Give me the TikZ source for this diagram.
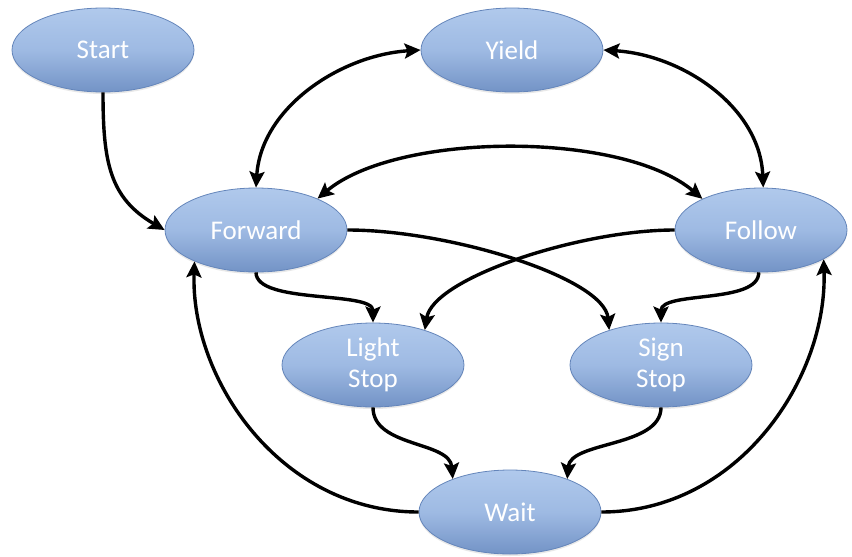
\documentclass[tikz,border=0pt]{standalone}
\usepackage{fontspec}
\setmainfont{Carlito}
\usetikzlibrary{arrows.meta,shadows,shapes.geometric}
\definecolor{stTop}{HTML}{B0C9EC}
\definecolor{stMid}{HTML}{9EBAE3}
\definecolor{stBot}{HTML}{7393C6}
\definecolor{stEdge}{HTML}{6485BA}
\tikzset{
  state/.style={ellipse, draw=stEdge, line width=0.8pt,
    top color=stTop, bottom color=stBot, middle color=stMid,
    minimum width=182pt, minimum height=84pt, inner sep=0pt,
    text=white, align=center,
    font=\fontsize{27}{31}\selectfont,
    drop shadow={opacity=0.18, shadow xshift=0pt, shadow yshift=-2pt}},
  trans/.style={line width=3.4pt, draw=black, -{Stealth[length=16pt, width=15pt, inset=3pt]}},
  both/.style={line width=3.4pt, draw=black,
    {Stealth[length=16pt, width=15pt, inset=3pt]}-{Stealth[length=16pt, width=15pt, inset=3pt]}}
}
\begin{document}
\begin{tikzpicture}[x=1pt, y=-1pt]
\useasboundingbox (0,0) rectangle (852,557);

% states
\node[state] (Start)   at (103,50)  {Start};
\node[state] (Yield)   at (512,50)  {Yield};
\node[state] (Forward) at (256,230) {Forward};
\node[state, minimum width=172pt] (Follow) at (761,230) {Follow};
\node[state] (Light)   at (373,365) {Light\\Stop};
\node[state] (Sign)    at (661,365) {Sign\\Stop};
\node[state] (Wait)    at (510,512) {Wait};

% transitions
\draw[trans] (Start.south) .. controls +(0,70) and +(-55,-32) .. (Forward.west);
\draw[both] (Yield.west) .. controls +(-80,5) and +(5,-80) .. (Forward.north);
\draw[both] (Yield.east) .. controls +(80,5) and +(-3,-80) .. (Follow.87);
\draw[both] (Forward.27) .. controls +(80,-67) and +(-80,-68) .. (Follow.152);
\draw[trans] (Forward.east) .. controls +(103,0) and +(-5,-52) .. (Sign.146);
\draw[trans] (Follow.west) .. controls +(-95,0) and +(8,-52) .. (Light.34);
\draw[trans] (Forward.south) .. controls +(0,32) and +(0,-32) .. (Light.north);
\draw[trans] (Follow.-93) .. controls +(0,32) and +(0,-32) .. (Sign.north);
\draw[trans] (Light.south) .. controls +(0,40) and +(-3,-38) .. (Wait.150);
\draw[trans] (Sign.south) .. controls +(0,40) and +(3,-38) .. (Wait.30);
\draw[trans] (Wait.west) .. controls +(-138,0) and +(-4,118) .. (Forward.207);
\draw[trans] (Wait.east) .. controls +(138,0) and +(4,118) .. (Follow.-25);
\end{tikzpicture}
\end{document}
